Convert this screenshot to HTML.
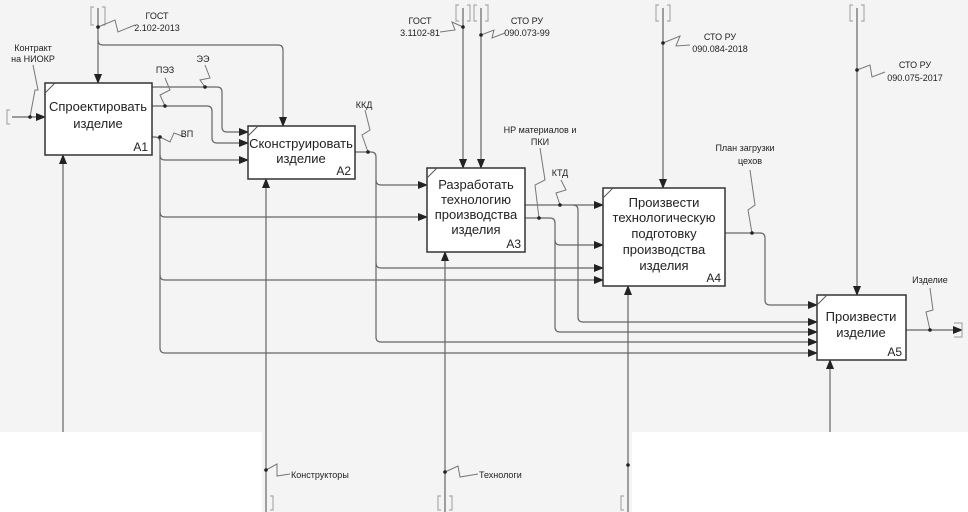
<!DOCTYPE html>
<html><head><meta charset="utf-8">
<style>
html,body{margin:0;padding:0;background:#fff;}
svg{display:block;}
text{font-family:"Liberation Sans",sans-serif;fill:#222;}
</style></head><body>
<svg width="968" height="512" viewBox="0 0 968 512" xmlns="http://www.w3.org/2000/svg">
<defs>
<marker id="a" markerWidth="10" markerHeight="8" refX="9" refY="4" orient="auto" markerUnits="userSpaceOnUse">
<path d="M0,0 L10,4 L0,8 z" fill="#222"/></marker>
</defs>
<rect x="0" y="0" width="968" height="432" fill="#f4f4f4"/>
<rect x="262" y="432" width="370" height="80" fill="#f4f4f4"/>
<g fill="none" stroke="#666" stroke-width="1.2">
<path d="M12,117 H45" marker-end="url(#a)"/>
<path d="M98,8 V83" marker-end="url(#a)"/>
<path d="M98,40 Q98,45 103,45 H278 Q283,45 283,50 V126" marker-end="url(#a)"/>
<path d="M152,87 H217 Q222,87 222,92 V127 Q222,132 227,132 H248" marker-end="url(#a)"/>
<path d="M152,106 H207 Q212,106 212,111 V138 Q212,143 217,143 H248" marker-end="url(#a)"/>
<path d="M152,137 H155 Q160,137 160,142 V348 Q160,353 165,353 H817" marker-end="url(#a)"/>
<path d="M160,155 Q160,160 165,160 H248" marker-end="url(#a)"/>
<path d="M160,212 Q160,217 165,217 H427" marker-end="url(#a)"/>
<path d="M160,275 Q160,280 165,280 H603" marker-end="url(#a)"/>
<path d="M355,152 H371 Q376,152 376,157 V337 Q376,342 381,342 H817" marker-end="url(#a)"/>
<path d="M376,180 Q376,185 381,185 H427" marker-end="url(#a)"/>
<path d="M376,263 Q376,268 381,268 H603" marker-end="url(#a)"/>
<path d="M463,8 V168" marker-end="url(#a)"/>
<path d="M481,8 V168" marker-end="url(#a)"/>
<path d="M525,205 H603" marker-end="url(#a)"/>
<path d="M573,205 Q578,205 578,210 V317 Q578,322 583,322 H817" marker-end="url(#a)"/>
<path d="M525,218 H550 Q555,218 555,223 V327 Q555,332 560,332 H817" marker-end="url(#a)"/>
<path d="M555,240 Q555,245 560,245 H603" marker-end="url(#a)"/>
<path d="M663,8 V188" marker-end="url(#a)"/>
<path d="M725,233 H760 Q765,233 765,238 V300 Q765,305 770,305 H817" marker-end="url(#a)"/>
<path d="M857,8 V295" marker-end="url(#a)"/>
<path d="M906,330 H962" marker-end="url(#a)"/>
<path d="M63,432 V155" marker-end="url(#a)"/>
<path d="M266,512 V179" marker-end="url(#a)"/>
<path d="M445,512 V252" marker-end="url(#a)"/>
<path d="M628,512 V286" marker-end="url(#a)"/>
<path d="M830,432 V360" marker-end="url(#a)"/>
</g>
<g fill="none" stroke="#aaa" stroke-width="1.2">
<path d="M94,7 h-3 v18 h3 M102,7 h3 v18 h-3"/>
<path d="M459,5 h-3 v16 h3 M467,5 h3 v16 h-3"/>
<path d="M477,5 h-3 v16 h3 M485,5 h3 v16 h-3"/>
<path d="M659,5 h-3 v16 h3 M667,5 h3 v16 h-3"/>
<path d="M853,5 h-3 v16 h3 M861,5 h3 v16 h-3"/>
<path d="M10,110 h-3 v14 h3"/>
<path d="M270,496 h3 v14 h-3"/>
<path d="M441,496 h-3 v14 h3 M449,496 h3 v14 h-3"/>
<path d="M624,496 h-3 v14 h3"/>
<path d="M954,323 h8 v14 h-8"/>
</g>
<g fill="none" stroke="#777" stroke-width="1">
<path d="M98,27 L115,20 L118,32 L135,25"/>
<path d="M30,117 L35,90 L38,90 L33,65"/>
<path d="M165,106 L160,95 L170,90 L165,78"/>
<path d="M205,87 L200,80 L210,78 L205,65"/>
<path d="M160,137 L170,142 L174,133 L185,137"/>
<path d="M368,152 L362,135 L370,130 L365,110"/>
<path d="M463,27 L452,22 L455,30 L440,32"/>
<path d="M481,35 L494,30 L492,38 L505,33"/>
<path d="M539,218 L535,185 L545,180 L540,148"/>
<path d="M560,205 L556,193 L566,190 L561,180"/>
<path d="M663,43 L680,36 L676,46 L690,45"/>
<path d="M752,233 L748,210 L755,205 L750,170"/>
<path d="M857,70 L870,65 L872,77 L885,72"/>
<path d="M930,330 L926,312 L933,310 L930,288"/>
<path d="M266,470 L277,464 L277,476 L290,474"/>
<path d="M445,472 L458,466 L460,477 L478,474"/>
</g>
<g fill="#222">
<circle cx="98" cy="27" r="1.8"/><circle cx="30" cy="117" r="1.8"/><circle cx="165" cy="106" r="1.8"/>
<circle cx="205" cy="87" r="1.8"/><circle cx="160" cy="137" r="1.8"/><circle cx="368" cy="152" r="1.8"/>
<circle cx="463" cy="27" r="1.8"/><circle cx="481" cy="35" r="1.8"/><circle cx="539" cy="218" r="1.8"/>
<circle cx="560" cy="205" r="1.8"/><circle cx="663" cy="43" r="1.8"/><circle cx="752" cy="233" r="1.8"/>
<circle cx="857" cy="70" r="1.8"/><circle cx="930" cy="330" r="1.8"/><circle cx="266" cy="470" r="1.8"/>
<circle cx="445" cy="472" r="1.8"/><circle cx="628" cy="465" r="1.8"/>
</g>
<g stroke="#333" stroke-width="1.5" fill="#fff">
<rect x="45" y="83" width="107" height="72"/>
<rect x="248" y="126" width="107" height="53"/>
<rect x="427" y="168" width="98" height="84"/>
<rect x="603" y="188" width="122" height="98"/>
<rect x="817" y="295" width="89" height="65"/>
</g>
<g stroke="#555" stroke-width="1">
<path d="M45,93 L55,83"/><path d="M248,136 L258,126"/><path d="M427,178 L437,168"/>
<path d="M603,198 L613,188"/><path d="M817,305 L827,295"/>
</g>
<g font-size="13" text-anchor="middle">
<text x="98" y="111">Спроектировать</text><text x="98" y="128">изделие</text>
<text x="301" y="148">Сконструировать</text><text x="301" y="163">изделие</text>
<text x="476" y="189">Разработать</text><text x="476" y="204">технологию</text><text x="476" y="219">производства</text><text x="476" y="234">изделия</text>
<text x="664" y="207">Произвести</text><text x="664" y="222">технологическую</text><text x="664" y="238">подготовку</text><text x="664" y="254">производства</text><text x="664" y="270">изделия</text>
<text x="861" y="321">Произвести</text><text x="861" y="337">изделие</text>
</g>
<g font-size="12" text-anchor="end">
<text x="148" y="151">A1</text><text x="351" y="175">A2</text><text x="521" y="248">A3</text><text x="721" y="282">A4</text><text x="902" y="356">A5</text>
</g>
<g font-size="9" text-anchor="middle">
<text x="33" y="51">Контракт</text><text x="33" y="62">на НИОКР</text>
<text x="157" y="19">ГОСТ</text><text x="157" y="31">2.102-2013</text>
<text x="165" y="73">ПЭЗ</text><text x="203" y="62">ЭЭ</text>
<text x="187" y="137">ВП</text><text x="364" y="108">ККД</text>
<text x="420" y="24">ГОСТ</text><text x="420" y="36">3.1102-81</text>
<text x="527" y="24">СТО РУ</text><text x="527" y="36">090.073-99</text>
<text x="540" y="133">НР материалов и</text><text x="540" y="145">ПКИ</text>
<text x="560" y="176">КТД</text>
<text x="720" y="40">СТО РУ</text><text x="720" y="52">090.084-2018</text>
<text x="745" y="151">План загрузки</text><text x="750" y="164">цехов</text>
<text x="915" y="68">СТО РУ</text><text x="915" y="81">090.075-2017</text>
<text x="930" y="283">Изделие</text>
</g>
<g font-size="9">
<text x="291" y="478">Конструкторы</text>
<text x="479" y="478">Технологи</text>
</g>
</svg>
</body></html>
